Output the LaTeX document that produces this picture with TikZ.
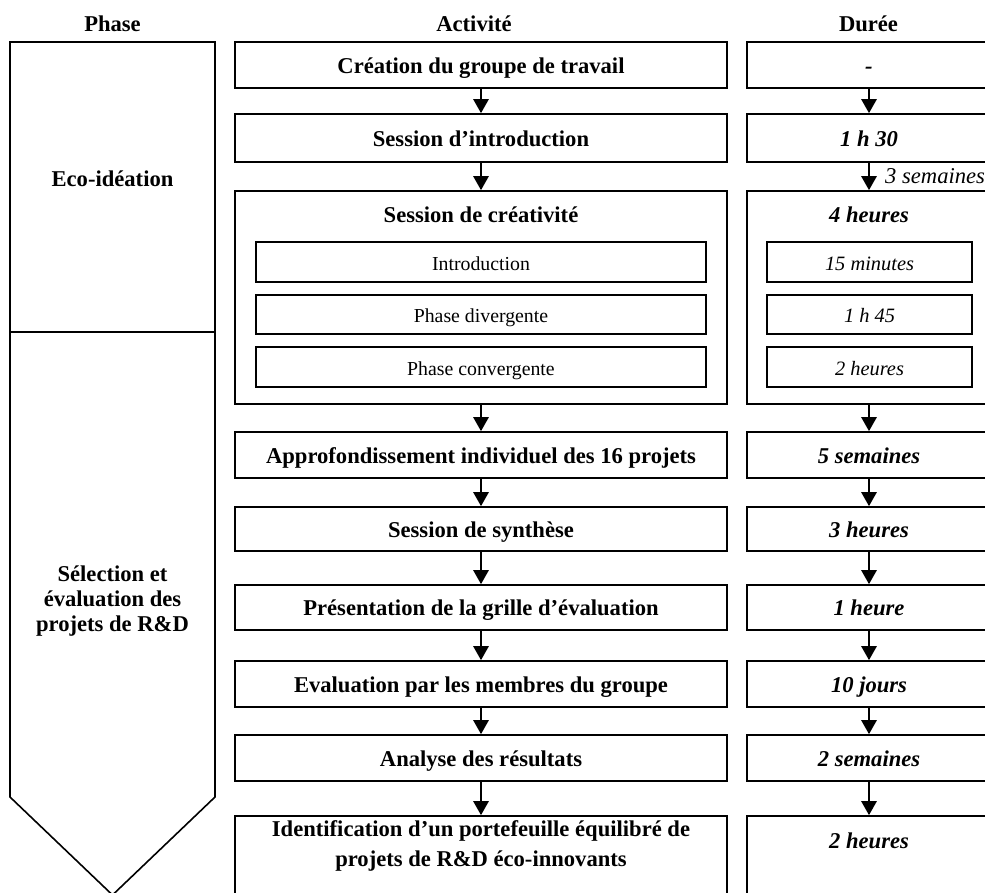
\documentclass[tikz,border=0pt]{standalone}
\usepackage{fontspec}
\setmainfont{Liberation Serif}
\usetikzlibrary{arrows.meta}
\newcommand\myB{\fontsize{22.6}{24.5}\selectfont\bfseries}
\newcommand\myBP{\fontsize{22.6}{25}\selectfont\bfseries}
\newcommand\myBW{\fontsize{22.6}{29.5}\selectfont\bfseries}
\newcommand\myBI{\fontsize{22.6}{24.5}\selectfont\bfseries\itshape}
\newcommand\myN{\fontsize{19.8}{22}\selectfont}
\newcommand\myNI{\fontsize{20.4}{22}\selectfont\itshape}
\newcommand\myLI{\fontsize{22.6}{24.5}\selectfont\itshape}
\tikzset{
  bx/.style={draw, line width=1.6pt, inner sep=0pt, anchor=center, text height=21pt, text depth=4.6pt},
  actbox/.style={bx, minimum width=492pt},
  durbox/.style={bx, minimum width=244pt},
  inact/.style={bx, minimum width=450pt},
  indur/.style={bx, minimum width=205pt},
  txt/.style={inner sep=0pt, anchor=center},
  t1/.style={txt, text height=21pt, text depth=4.6pt},
  conn/.style={line width=2.6pt, -{Triangle[length=14pt,width=15pt]}}
}
\begin{document}
\begin{tikzpicture}[x=1pt,y=1pt]
\useasboundingbox (0,0) rectangle (985,-892);
\clip (0,0) rectangle (985,-892);
% headers
\node[t1] (hp) at (112.5,-23) {\myB Phase};
\node[t1] (ha) at (474,-23) {\myB Activité};
\node[t1] (hd) at (868.5,-23) {\myB Durée};
% phase column
\draw[line width=1.6pt, line join=miter] (10,-42) -- (215,-42) -- (215,-797) -- (112.5,-895) -- (10,-797) -- cycle;
\draw[line width=1.6pt] (10,-332) -- (215,-332);
\node[t1] (p1) at (112.5,-178) {\myB Eco-idéation};
\node[txt, align=center, font=\myBP] (p2) at (112.5,-601) {Sélection et\\ évaluation des\\ projets de R\&D};
% activity column
\node[actbox, minimum height=46pt] (a1) at (481,-65) {\myB Création du groupe de travail};
\node[actbox, minimum height=48pt] (a2) at (481,-138) {\myB Session d’introduction};
\node[actbox, minimum height=213pt] (a3) at (481,-297.5) {};
\node[t1] (a3t) at (481,-214) {\myB Session de créativité};
\node[inact, minimum height=40pt] (a3a) at (481,-262) {\myN Introduction};
\node[inact, minimum height=39pt] (a3b) at (481,-314.5) {\myN Phase divergente};
\node[inact, minimum height=40pt] (a3c) at (481,-367) {\myN Phase convergente};
\node[actbox, minimum height=46pt] (a4) at (481,-455) {\myB Approfondissement individuel des 16 projets};
\node[actbox, minimum height=44pt] (a5) at (481,-529) {\myB Session de synthèse};
\node[actbox, minimum height=45pt] (a6) at (481,-607.5) {\myB Présentation de la grille d’évaluation};
\node[actbox, minimum height=46pt] (a7) at (481,-684) {\myB Evaluation par les membres du groupe};
\node[actbox, minimum height=46pt] (a8) at (481,-758) {\myB Analyse des résultats};
\node[actbox, minimum height=90pt] (a9) at (481,-861) {};
\node[txt, align=center, font=\myBW] (a9t) at (481,-846) {Identification d’un portefeuille équilibré de\\ projets de R\&D éco-innovants};
% duration column
\node[durbox, minimum height=46pt] (d1) at (869,-65) {\myBI -};
\node[durbox, minimum height=48pt] (d2) at (869,-138) {\myBI 1 h 30};
\node[durbox, minimum height=213pt] (d3) at (869,-297.5) {};
\node[t1] (d3t) at (869,-214) {\myBI 4 heures};
\node[indur, minimum height=40pt] (d3a) at (869.5,-262) {\myNI 15 minutes};
\node[indur, minimum height=39pt] (d3b) at (869.5,-314.5) {\myNI 1 h 45};
\node[indur, minimum height=40pt] (d3c) at (869.5,-367) {\myNI 2 heures};
\node[durbox, minimum height=46pt] (d4) at (869,-455) {\myBI 5 semaines};
\node[durbox, minimum height=44pt] (d5) at (869,-529) {\myBI 3 heures};
\node[durbox, minimum height=45pt] (d6) at (869,-607.5) {\myBI 1 heure};
\node[durbox, minimum height=46pt] (d7) at (869,-684) {\myBI 10 jours};
\node[durbox, minimum height=46pt] (d8) at (869,-758) {\myBI 2 semaines};
\node[durbox, minimum height=90pt] (d9) at (869,-861) {};
\node[t1] (d9t) at (869,-840) {\myBI 2 heures};
% connectors
\foreach \u/\v in {a1/a2,a2/a3,a3/a4,a4/a5,a5/a6,a6/a7,a7/a8,a8/a9,d1/d2,d3/d4,d4/d5,d5/d6,d6/d7,d7/d8,d8/d9}
  \draw[conn] (\u.south) -- (\v.north);
\draw[conn] (d2.south) -- (d3.north);
\node[inner sep=0pt, anchor=base west] (lab) at (885,-183.3) {\myLI 3 semaines};
\end{tikzpicture}
\end{document}
